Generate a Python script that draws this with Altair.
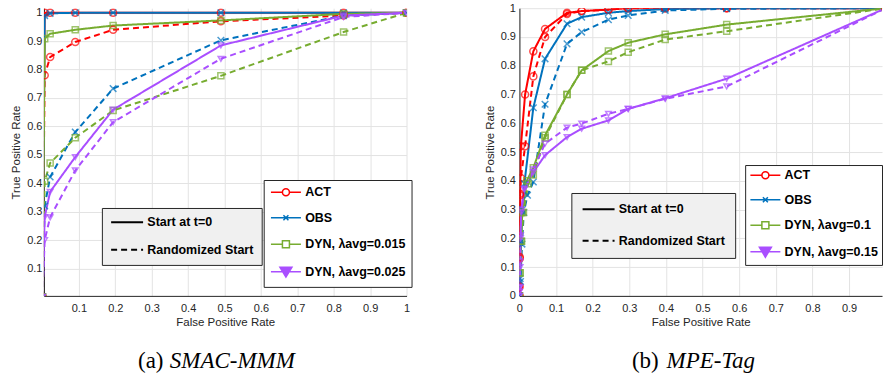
import altair as alt
import pandas as pd

FONT = "Liberation Sans"
SERIF = "Liberation Serif"
INK = "#262626"
GRID = "#e3e3e3"

STARTS = ["Start at t=0", "Randomized Start"]
COLORS = ["#FF0000", "#0072BD", "#77AC30", "#A94EFF"]
LEG_FILLS = ["white", "white", "white", "#A94EFF"]
MARK_SHAPES = ["circle", "M-1,-1L1,1M-1,1L1,-1", "square", "triangle-down"]
MARK_SIZES = [50, 30, 45, 80]
LEG_SHAPES = [
    "M-3,0H-0.7M0.7,0H3M-0.7,0A0.7,0.7,0,1,0,0.7,0A0.7,0.7,0,1,0,-0.7,0",
    "M-3,0H3M-0.5,-0.5L0.5,0.5M-0.5,0.5L0.5,-0.5",
    "M-3,0H-0.7M0.7,0H3M-0.7,-0.7H0.7V0.7H-0.7Z",
    "M-3,0H3M-1.2,-0.9H1.2L0,1.1Z",
]
DASH_SYMBOL = "M-3.2,0H3.2"

# ---------------- (a) SMAC-MMM ----------------
A_LABELS = ["ACT", "OBS", "DYN, λavg=0.015", "DYN, λavg=0.025"]
A_FPR = [0, 0.006, 0.021, 0.09, 0.194, 0.49, 0.827, 1.0]
A_ACT_T0 = [0, 1.0, 1.0, 1.0, 1.0, 1.0, 1.0, 1.0]
A_ACT_RS = [0, 0.78, 0.844, 0.897, 0.94, 0.97, 0.99, 1.0]
A_OBS_T0 = [0, 0.99, 0.998, 1.0, 1.0, 1.0, 1.0, 1.0]
A_OBS_RS = [0, 0.32, 0.422, 0.58, 0.733, 0.903, 0.99, 1.0]
A_DYN1_T0 = [0, 0.909, 0.926, 0.94, 0.955, 0.973, 0.996, 1.0]
A_DYN1_RS = [0, 0.407, 0.471, 0.56, 0.656, 0.778, 0.932, 1.0]
A_DYN2_T0 = [0, 0.281, 0.37, 0.492, 0.659, 0.885, 0.99, 1.0]
A_DYN2_RS = [0, 0.2, 0.28, 0.445, 0.615, 0.838, 0.985, 1.0]

# ---------------- (b) MPE-Tag ----------------
B_LABELS = ["ACT", "OBS", "DYN, λavg=0.1", "DYN, λavg=0.15"]
B_ACT_FPR = [0, 0, 0.001, 0.002, 0.004, 0.0155, 0.038, 0.07, 0.13, 0.17, 0.243, 0.297, 0.398, 0.566, 1.0]
B_ACT_T0 = [0, 0.035, 0.135, 0.355, 0.52, 0.70, 0.85, 0.928, 0.984, 0.99, 0.995, 1.0, 1.0, 1.0, 1.0]
B_ACT_RS = [0, 0.03, 0.13, 0.35, 0.41, 0.52, 0.763, 0.90, 0.98, 0.99, 0.995, 1.0, 1.0, 1.0, 1.0]
B_OBS_T0_FPR = [0, 0.002, 0.005, 0.008, 0.0136, 0.038, 0.07, 0.13, 0.17, 0.243, 0.297, 0.398, 0.566, 1.0]
B_OBS_T0 = [0, 0.06, 0.19, 0.30, 0.39, 0.654, 0.824, 0.946, 0.969, 0.984, 0.99, 0.997, 1.0, 1.0]
B_OBS_RS_FPR = [0, 0.003, 0.007, 0.012, 0.022, 0.038, 0.07, 0.13, 0.17, 0.243, 0.297, 0.398, 0.566, 1.0]
B_OBS_RS = [0, 0.05, 0.18, 0.29, 0.35, 0.396, 0.666, 0.876, 0.917, 0.96, 0.975, 0.992, 0.998, 1.0]
B_DYN1_T0_FPR = [0, 0.001, 0.004, 0.008, 0.02, 0.038, 0.07, 0.13, 0.17, 0.243, 0.297, 0.398, 0.566, 1.0]
B_DYN1_T0 = [0, 0.08, 0.19, 0.29, 0.40, 0.445, 0.558, 0.70, 0.784, 0.851, 0.88, 0.909, 0.943, 1.0]
B_DYN1_RS_FPR = [0, 0.002, 0.006, 0.011, 0.024, 0.038, 0.07, 0.13, 0.17, 0.243, 0.297, 0.398, 0.566, 1.0]
B_DYN1_RS = [0, 0.08, 0.19, 0.29, 0.39, 0.42, 0.55, 0.70, 0.784, 0.815, 0.847, 0.891, 0.92, 1.0]
B_DYN2_FPR = [0, 0, 0.001, 0.002, 0.003, 0.005, 0.0136, 0.038, 0.07, 0.13, 0.17, 0.243, 0.297, 0.398, 0.566, 1.0]
B_DYN2_T0 = [0, 0.015, 0.03, 0.12, 0.21, 0.30, 0.373, 0.43, 0.489, 0.552, 0.581, 0.61, 0.65, 0.687, 0.755, 1.0]
B_DYN2_RS = [0, 0.015, 0.03, 0.10, 0.20, 0.29, 0.37, 0.44, 0.529, 0.585, 0.599, 0.633, 0.65, 0.685, 0.728, 1.0]

A_TICKS = [0.1, 0.2, 0.3, 0.4, 0.5, 0.6, 0.7, 0.8, 0.9, 1.0]
B_XTICKS = [0, 0.1, 0.2, 0.3, 0.4, 0.5, 0.6, 0.7, 0.8, 0.9]
B_YTICKS = [0, 0.1, 0.2, 0.3, 0.4, 0.5, 0.6, 0.7, 0.8, 0.9, 1.0]


def frame(labels, series):
    rows = []
    for mi, si, xs, ys in series:
        for k, (xv, yv) in enumerate(zip(xs, ys)):
            rows.append({"fpr": xv, "tpr": yv, "method": labels[mi],
                         "start": STARTS[si], "idx": k})
    return pd.DataFrame(rows)


DF_A = frame(A_LABELS, [
    (0, 0, A_FPR, A_ACT_T0), (0, 1, A_FPR, A_ACT_RS),
    (1, 0, A_FPR, A_OBS_T0), (1, 1, A_FPR, A_OBS_RS),
    (2, 0, A_FPR, A_DYN1_T0), (2, 1, A_FPR, A_DYN1_RS),
    (3, 0, A_FPR, A_DYN2_T0), (3, 1, A_FPR, A_DYN2_RS),
])
DF_B = frame(B_LABELS, [
    (0, 0, B_ACT_FPR, B_ACT_T0), (0, 1, B_ACT_FPR, B_ACT_RS),
    (1, 0, B_OBS_T0_FPR, B_OBS_T0), (1, 1, B_OBS_RS_FPR, B_OBS_RS),
    (2, 0, B_DYN1_T0_FPR, B_DYN1_T0), (2, 1, B_DYN1_RS_FPR, B_DYN1_RS),
    (3, 0, B_DYN2_FPR, B_DYN2_T0), (3, 1, B_DYN2_FPR, B_DYN2_RS),
])


def axis(title, values, label_pad, title_pad):
    return alt.Axis(title=title, values=values, format=".1~f", grid=True,
                    gridColor=GRID, gridWidth=1, domainColor=INK, domainWidth=1,
                    ticks=False, tickSize=0, labelFont=FONT, labelFontSize=11,
                    labelColor=INK, labelPadding=label_pad, labelFlush=False,
                    labelOverlap=False, titleFont=FONT, titleFontSize=11.5,
                    titleFontWeight="normal", titleColor=INK, titlePadding=title_pad)


def panel(df, labels, xdom, ydom, xticks, yticks, y_label_pad,
          mleg, sleg, tag, name, tag_x, name_x):
    x = alt.X("fpr:Q", scale=alt.Scale(domain=xdom, nice=False, zero=False),
              axis=axis("False Positive Rate", xticks, 7, 3))
    y = alt.Y("tpr:Q", scale=alt.Scale(domain=ydom, nice=False, zero=False),
              axis=axis("True Positive Rate", yticks, y_label_pad, 5))
    color = alt.Color("method:N", scale=alt.Scale(domain=labels, range=COLORS), legend=None)

    lines = alt.Chart(df).mark_line(clip=True, strokeWidth=2).encode(
        x=x, y=y, color=color,
        strokeDash=alt.StrokeDash(
            "start:N", scale=alt.Scale(domain=STARTS, range=[[1, 0], [6, 4]]),
            legend=alt.Legend(
                orient="none", legendX=sleg["x"], legendY=sleg["y"], title=None,
                padding=sleg["pad"], fillColor="#f0f0f0", strokeColor=INK,
                cornerRadius=0, symbolType=DASH_SYMBOL, symbolSize=100,
                symbolOffset=11, symbolStrokeWidth=2, symbolStrokeColor="black",
                symbolOpacity=1, labelFont=FONT, labelFontSize=12.5,
                labelFontWeight="bold", labelColor="black", labelOffset=14,
                rowPadding=sleg["row"], labelLimit=0)),
        order=alt.Order("idx:Q"),
    )

    mlegend = alt.Legend(
        orient="none", legendX=mleg["x"], legendY=mleg["y"], title=None,
        padding=mleg["pad"], fillColor="white", strokeColor=INK, cornerRadius=0,
        symbolSize=100, symbolOffset=10, symbolStrokeWidth=1.5,
        symbolFillColor="white", symbolStrokeColor="black", symbolOpacity=1,
        labelFont=FONT, labelFontSize=12.5, labelFontWeight="bold",
        labelColor="black", labelOffset=13, rowPadding=mleg["row"], labelLimit=0)
    legend_layer = alt.Chart(df).transform_filter("datum.tpr > 2").mark_point(
        filled=True, strokeWidth=1.5).encode(
        x=x, y=y,
        stroke=alt.Stroke("method:N", scale=alt.Scale(domain=labels, range=COLORS), legend=mlegend),
        fill=alt.Fill("method:N", scale=alt.Scale(domain=labels, range=LEG_FILLS), legend=mlegend),
        shape=alt.Shape("method:N", scale=alt.Scale(domain=labels, range=LEG_SHAPES), legend=mlegend),
    )

    markers = alt.Chart(df).mark_point(clip=True, filled=False, strokeWidth=1.5).encode(
        x=x, y=y, color=color,
        shape=alt.Shape("method:N", scale=alt.Scale(domain=labels, range=MARK_SHAPES), legend=None),
        size=alt.Size("method:N", scale=alt.Scale(domain=labels, range=MARK_SIZES), legend=None),
    )

    cap1 = alt.Chart(pd.DataFrame({"t": [tag]})).mark_text(
        align="right", baseline="alphabetic", font=SERIF, fontSize=23, color="black"
    ).encode(text="t:N", x=alt.value(tag_x), y=alt.value(360))
    cap2 = alt.Chart(pd.DataFrame({"t": [name]})).mark_text(
        align="left", baseline="alphabetic", font=SERIF, fontSize=23,
        fontStyle="italic", color="black"
    ).encode(text="t:N", x=alt.value(name_x), y=alt.value(360))

    return alt.layer(lines, legend_layer, markers, cap1, cap2).resolve_scale(
        shape="independent", stroke="independent", fill="independent"
    ).properties(width=363, height=288)


pa = panel(DF_A, A_LABELS, [0.004, 1.0], [0.0035, 1.016], A_TICKS, A_TICKS, 2,
           {"x": 220, "y": 172, "row": 12.5, "pad": 6},
           {"x": 58, "y": 200, "pad": 8, "row": 14.5},
           "(a)", "SMAC-MMM", 119.7, 126)
pb = panel(DF_B, B_LABELS, [0, 0.99], [0, 1.0], B_XTICKS, B_YTICKS, 4,
           {"x": 226, "y": 157, "row": 11.5, "pad": 4},
           {"x": 52, "y": 185, "pad": 10, "row": 18.5},
           "(b)", "MPE-Tag", 139.5, 147.3)

chart = alt.hconcat(pa, pb, spacing=113, bounds="flush").resolve_scale(
    color="independent", shape="independent", size="independent",
    stroke="independent", fill="independent", strokeDash="independent",
).properties(
    padding={"left": 10, "top": 2, "right": 0, "bottom": 0},
    background="white",
).configure_view(stroke=None)

chart.save("out.html", embed_options={"renderer": "svg", "actions": False})
